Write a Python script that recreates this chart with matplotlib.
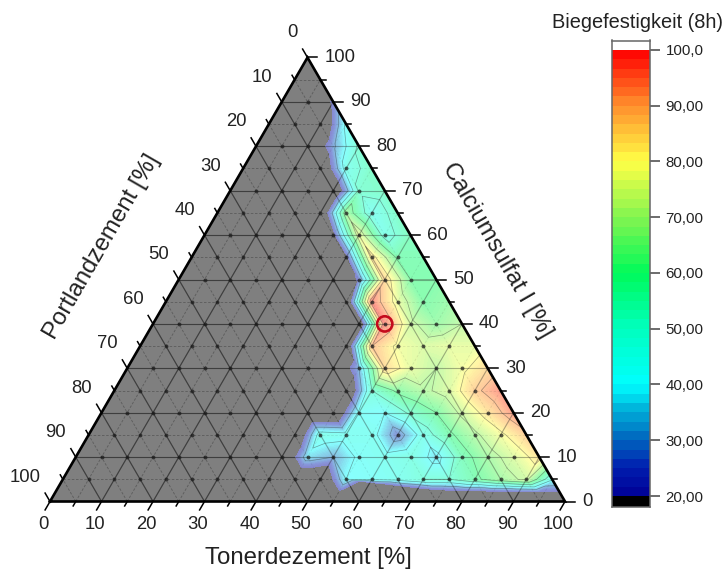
import numpy as np
import matplotlib
matplotlib.use("Agg")
import matplotlib.pyplot as plt
import matplotlib.tri as mtri
from matplotlib.colors import LinearSegmentedColormap, ListedColormap, Normalize
from matplotlib.patches import Rectangle

plt.rcParams['font.family'] = ['Liberation Sans', 'DejaVu Sans']

W, H = 726, 574
# (calcium %, first tonerdezement %, values at 5 % steps); every other lattice node has no data (0)
row_c90 = (90, 10, [22])
row_c85 = (85, 15, [42])
row_c80 = (80, 15, [28, 52])
row_c75 = (75, 20, [45, 54])
row_c70 = (70, 25, [52, 54])
row_c65 = (65, 25, [66, 44, 54])
row_c60 = (60, 25, [15, 76, 46, 56])
row_c55 = (55, 30, [15, 84, 58, 58])
row_c50 = (50, 35, [22, 86, 60, 60])
row_c45 = (45, 40, [97, 76, 60, 64])
row_c40 = (40, 45, [97, 72, 64, 70])
row_c35 = (35, 45, [90, 78, 74, 76, 76])
row_c30 = (30, 45, [30, 86, 76, 70, 78, 86])
row_c25 = (25, 50, [50, 62, 68, 74, 88, 96])
row_c20 = (20, 50, [42, 40, 52, 60, 72, 84, 95])
row_c15 = (15, 45, [46, 44, 44, 24, 45, 58, 68, 78, 88])
row_c10 = (10, 45, [36, 30, 42, 44, 48, 36, 56, 66, 74, 84])
row_c05 = (5, 55, [40, 42, 44, 50, 50, 58, 66, 72, 42])
rows = [row_c90, row_c85, row_c80, row_c75, row_c70, row_c65, row_c60, row_c55, row_c50,
        row_c45, row_c40, row_c35, row_c30, row_c25, row_c20, row_c15, row_c10, row_c05]
# lower edge of the filled area
floor_t = [60, 65, 70, 75, 80, 85, 90, 95]
floor_c = [4.6, 4.0, 3.3, 2.7, 2.5, 2.4, 2.3, 2.2]
floor_value = 19.9
best_point = (45, 40)  # tonerdezement, calcium
dots_absent = [(15, 80)]

tick_values = list(range(0, 101, 10))
cbar_ticks = [20, 30, 40, 50, 60, 70, 80, 90, 100]
cbar_labels = ['20,00', '30,00', '40,00', '50,00', '60,00', '70,00', '80,00', '90,00', '100,0']
cmap_stops = [(20, (0, 0, 150)), (25, (0, 30, 175)), (30, (0, 100, 190)), (35, (0, 170, 215)),
              (40, (0, 255, 255)), (50, (0, 255, 190)), (60, (0, 250, 90)), (70, (130, 245, 80)),
              (80, (255, 255, 70)), (90, (255, 145, 45)), (100, (255, 0, 0))]

levels = np.linspace(20, 100, 49)
fill_levels = np.linspace(20, 100, 97)
base = LinearSegmentedColormap.from_list(
    'rb', [((v - 20) / 80, tuple(c / 255 for c in col)) for v, col in cmap_stops], N=256)
a = 0.47
samples = base(np.linspace(0, 1, 256))[:, :3]
pale = ListedColormap(samples * a + (1 - a))
norm = Normalize(20, 100)

fig = plt.figure(figsize=(W / 100, H / 100), dpi=100)
left, right, top, bottom = 50, 565, 57.5, 501.5
ax = fig.add_axes([left / W, 1 - bottom / H, (right - left) / W, (bottom - top) / H])
ax.set_xlim(0, 100); ax.set_ylim(0, 100); ax.axis('off')


def xy(t, c):
    return t + c / 2, c


nodes = {}
px, py, pz = [], [], []
vals = {}
for c, t0, v in rows:
    for i, val in enumerate(v):
        vals[(t0 + 5 * i, c)] = val
floor = dict(zip(floor_t, floor_c))
for c in range(0, 101, 5):
    for t in range(0, 101 - c, 5):
        nodes[(t, c)] = len(px)
        if c == 0 and t in floor:
            px.append(t); py.append(floor[t]); pz.append(floor_value)
        else:
            x, y = xy(t, c)
            px.append(x); py.append(y); pz.append(vals.get((t, c), 0))
tris = []
for (t, c), i in nodes.items():
    if (t + 5, c) in nodes and (t, c + 5) in nodes:
        tris.append([i, nodes[(t + 5, c)], nodes[(t, c + 5)]])
    if (t + 5, c + 5) in nodes:
        tris.append([nodes[(t + 5, c)], nodes[(t + 5, c + 5)], nodes[(t, c + 5)]])
tri = mtri.Triangulation(px, py, tris)

frame_x = [0, 100, 50, 0]
frame_y = [0, 0, 100, 0]
ax.fill(frame_x, frame_y, color='#7f7f7f', lw=0, zorder=1)
cf = ax.tricontourf(tri, pz, levels=fill_levels, cmap=pale, norm=norm, zorder=2)
cf.set_edgecolor('face'); cf.set_linewidth(0.3)
ax.tricontour(tri, pz, levels=list(range(30, 100, 10)), colors='#303030', linewidths=0.5,
              alpha=0.45, zorder=3)

for v in range(5, 100, 5):
    major = v % 10 == 0
    ls = '-' if major else (0, (3, 2))
    lw = 0.8 if major else 0.6
    segs = [(xy(0, v), xy(100 - v, v)), (xy(v, 0), xy(v, 100 - v)), (xy(100 - v, 0), xy(0, 100 - v))]
    for s in segs:
        ax.plot(*zip(*s), color='#202020', lw=lw, ls=ls, alpha=0.5 if major else 0.28, zorder=1.5)
        ax.plot(*zip(*s), color='#202020', lw=lw, ls=ls, alpha=0.36 if major else 0.1, zorder=4)

dx, dy = [], []
for c in range(5, 95, 5):
    for t in range(5, 100 - c, 5):
        if (t, c) not in dots_absent:
            x, y = xy(t, c)
            dx.append(x); dy.append(y)
ax.scatter(dx, dy, s=8, color='#1a1a1a', alpha=0.72, lw=0, zorder=5)
ax.scatter(*xy(*best_point), s=120, facecolor='none', edgecolor='#c40a1c', lw=1.9, zorder=7)

ax.plot(frame_x, frame_y, color='black', lw=1.9, zorder=6, clip_on=False, solid_joinstyle='miter')
for v in range(0, 101, 5):
    L = 1.9 if v % 10 == 0 else 1.0
    ax.plot(*zip(xy(v, 0), xy(v, -L)), color='black', lw=1.1, clip_on=False, zorder=6)
    ax.plot(*zip(xy(0, 100 - v), xy(-L, 100 - v + L)), color='black', lw=1.1, clip_on=False, zorder=6)
    ax.plot(*zip(xy(100 - v, v), xy(100 - v + L, v)), color='black', lw=1.1, clip_on=False, zorder=6)

col = '#222222'
fs = 13.3
pt = 0.72
for v in tick_values:
    ax.annotate(str(v), xy(v, 0), xytext=(-6.5 * pt, -23 * pt), textcoords='offset points',
                ha='center', va='center', fontsize=fs, color=col, annotation_clip=False)
    ax.annotate(str(v), xy(0, 100 - v), xytext=(-9.5 * pt, 24.5 * pt), textcoords='offset points',
                ha='right', va='center', fontsize=fs, color=col, annotation_clip=False)
    ax.annotate(str(v), xy(100 - v, v), xytext=(17 * pt, 0), textcoords='offset points',
                ha='left', va='center', fontsize=fs, color=col, annotation_clip=False)

fig.text(308 / W, 1 - 558 / H, 'Tonerdezement [%]', fontsize=17.3, ha='center', va='center', color=col)
fig.text(102 / W, 1 - 247 / H, 'Portlandzement [%]', fontsize=17.3, ha='center', va='center',
         rotation=60, rotation_mode='anchor', color=col)
fig.text(497 / W, 1 - 250 / H, 'Calciumsulfat I [%]', fontsize=17.3, ha='center', va='center',
         rotation=-60, rotation_mode='anchor', color=col)
fig.text(637 / W, 1 - 22 / H, 'Biegefestigkeit (8h)', fontsize=14.4, ha='center', va='center', color=col)

# colour scale
y20, y100 = 496, 50
per = (y20 - y100) / 80
y_bot, y_top = 506.5, 40.5
cax = fig.add_axes([612 / W, 1 - y_bot / H, 38 / W, (y_bot - y_top) / H])
cax.set_xlim(0, 1)
cax.set_ylim(20 - (y_bot - y20) / per, 100 + (y100 - y_top) / per)
cax.pcolormesh([0, 1], levels, ((levels[:-1] + levels[1:]) / 2)[:, None], cmap=base, norm=norm,
               shading='flat')
ylo, yhi = cax.get_ylim()
cax.add_patch(Rectangle((0, ylo), 1, 20 - ylo, color='black', lw=0))
cax.add_patch(Rectangle((0, 100), 1, yhi - 100, color='white', lw=0))
cax.set_xticks([])
cax.yaxis.tick_right()
cax.set_yticks(cbar_ticks, cbar_labels)
cax.tick_params(axis='y', length=7.2, width=1.1, color='#444444', labelsize=10.8, labelcolor=col, pad=4)
for s in cax.spines.values():
    s.set_color('#666666'); s.set_linewidth(1.1)

fig.savefig('out.png', dpi=100)
